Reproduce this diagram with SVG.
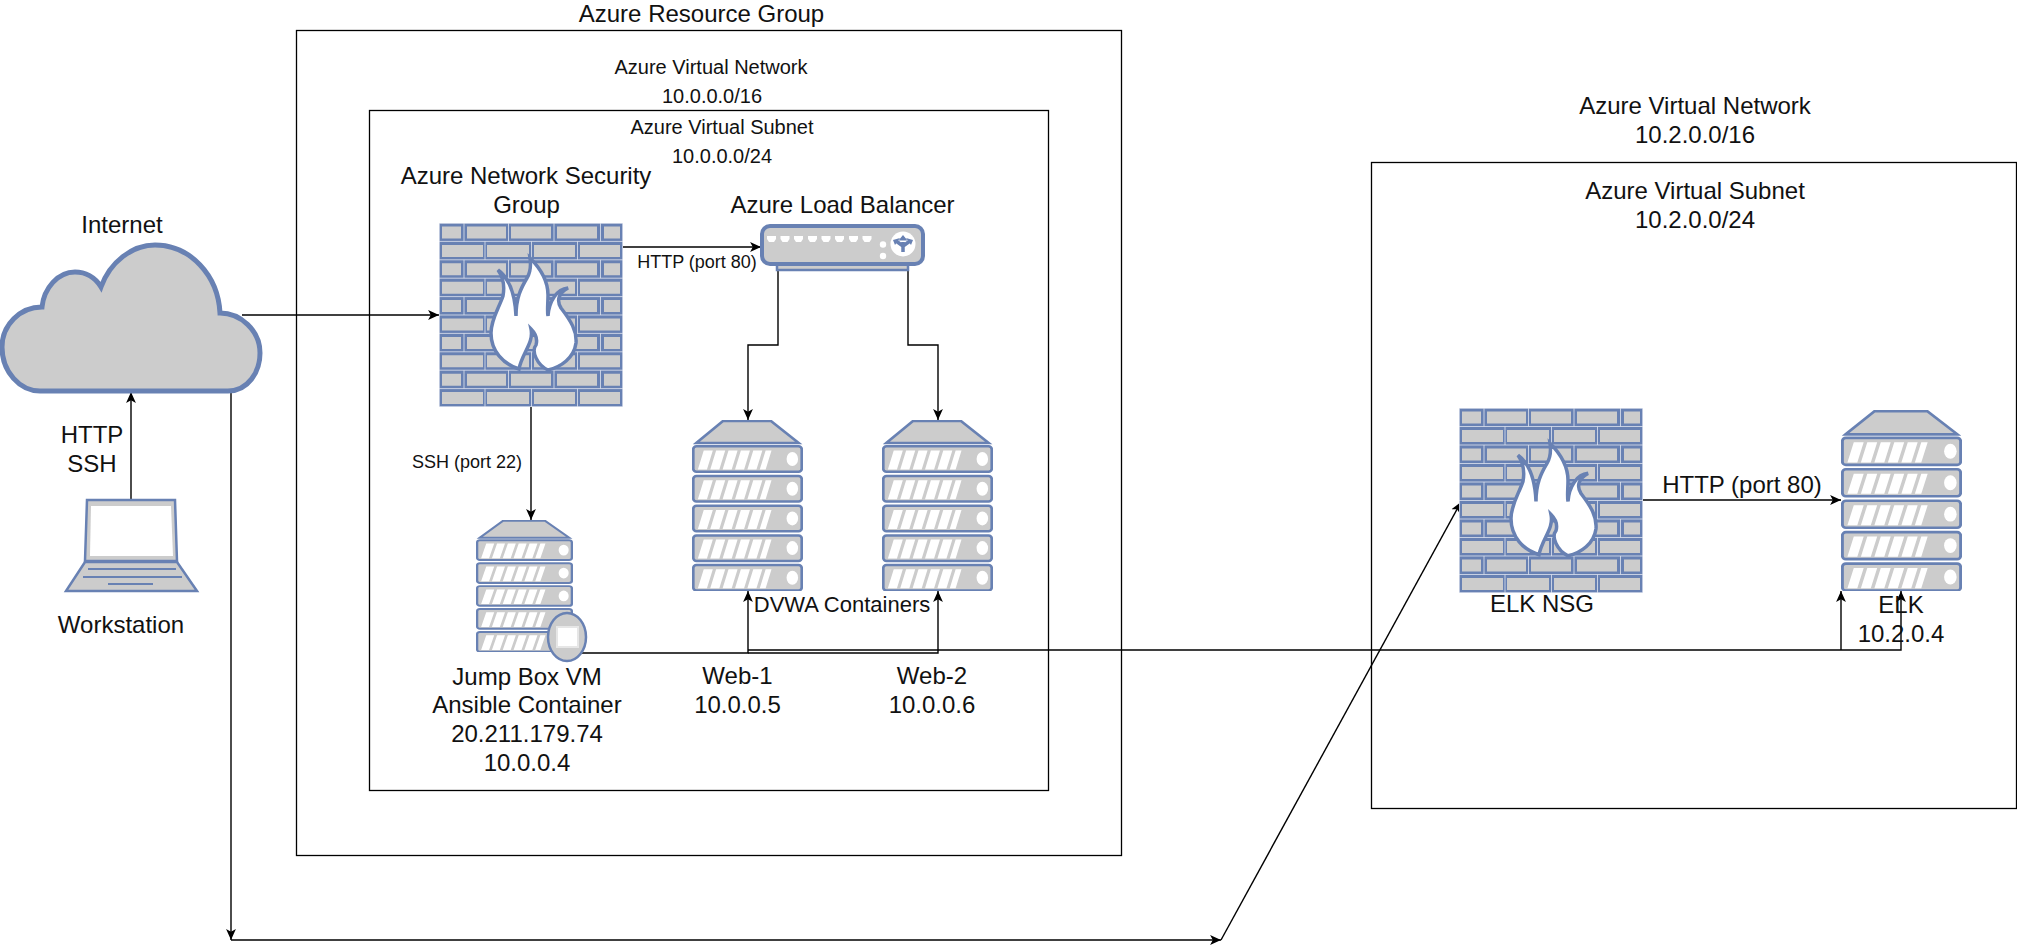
<svg xmlns="http://www.w3.org/2000/svg" width="2017" height="950" viewBox="0 0 2017 950">
<style>
text{font-family:"Liberation Sans",Arial,sans-serif;font-size:24px;fill:#111;text-anchor:middle}
.m{font-size:20px}
.s{font-size:18px}
.d{font-size:22px}
.box{fill:none;stroke:#000;stroke-width:1.3}
.c{fill:none;stroke:#000;stroke-width:1.4}
.a{marker-end:url(#arr)}
.b{fill:#ccc;stroke:#6881B3}
.br{fill:#ccc}
</style>
<defs>
<marker id="arr" markerUnits="userSpaceOnUse" markerWidth="12" markerHeight="12" refX="10" refY="5" orient="auto" viewBox="0 0 11 10">
<path d="M0,0.5 L10,5 L0,9.5 L2.5,5Z" fill="#000"/>
</marker>
<symbol id="server" viewBox="0 0 104 171" preserveAspectRatio="none">
<path class="b" stroke-width="2.5" d="M4,23 L29,1 H74 L100,23Z"/>
<g id="su">
<rect class="b" stroke-width="2.5" x="1.2" y="26.3" width="101.6" height="25.5" rx="3"/>
<path fill="#fff" d="M11,30.500 h8.500 l-5.500,19 h-8.500z M22.600,30.500 h8.500 l-5.500,19 h-8.500z M34.200,30.500 h8.500 l-5.500,19 h-8.500z M45.800,30.500 h8.500 l-5.500,19 h-8.500z M57.400,30.500 h8.500 l-5.500,19 h-8.500z M69,30.500 h5.500 l-5.500,19 h-5.500z"/>
<ellipse cx="94" cy="39" rx="5.400" ry="7" fill="#fff"/>
</g>
<use href="#su" y="29.7"/><use href="#su" y="59.4"/><use href="#su" y="89.1"/><use href="#su" y="118.8"/>
</symbol>
<symbol id="fw" viewBox="0 0 184 184" preserveAspectRatio="none">
<rect width="184" height="184" fill="#6881B3"/>
<path stroke="#dfe4ef" stroke-width="0.8" fill="none" d="M0,18.4H184M0,36.8H184M0,55.2H184M0,73.6H184M0,92H184M0,110.4H184M0,128.8H184M0,147.2H184M0,165.6H184M0,.4H184M0,183.6H184M.4,0V184M183.6,0V184"/>
<g id="r1"><path class="br" d="M3,3.5h19v12h-19z M28,3.5h39v12h-39z M72,3.5h40v12h-40z M118,3.5h40v12h-40z M165,3.5h16v12h-16z"/>
<path stroke="#dfe4ef" stroke-width="0.8" d="M25,0V18.4M69.5,0V18.4M115,0V18.4M161.5,0V18.4"/></g>
<g id="r2"><path class="br" d="M3,21.9h41v12h-41z M48,21.9h42v12h-42z M95,21.9h41v12h-41z M141,21.9h40v12h-40z"/>
<path stroke="#dfe4ef" stroke-width="0.8" d="M46,18.4V36.8M92.5,18.4V36.8M138.5,18.4V36.8"/></g>
<use href="#r1" y="36.8"/><use href="#r2" y="36.8"/><use href="#r1" y="73.6"/><use href="#r2" y="73.6"/><use href="#r1" y="110.4"/><use href="#r2" y="110.4"/><use href="#r1" y="147.2"/><use href="#r2" y="147.2"/>
<path fill="#fff" stroke="#6881B3" stroke-width="3.5" d="M91,35 C102,46 109,58 109,72 C109,80 108,88 109,93 C110,78 118,66 129,65 C120,70 117,77 122,85 C132,98 138,108 137,120 C135,135 122,144 109,147 C98,142 92,128 97,122 C99,115 96,110 92,106 C95,120 83,130 80,146 C64,141 52,128 52,110 C52,96 60,85 64,73 C66,62 64,54 59,47 C70,55 76,70 77,93 C77,75 82,65 88,55 C91,50 92,42 91,35Z"/>
</symbol>
</defs>
<rect width="2017" height="950" fill="#fff"/>

<g id="azure-resource-group"><rect class="box" x="296.5" y="30.5" width="825" height="825"/><text x="701.5" y="22">Azure Resource Group</text></g>
<g id="azure-vnet-1"><text class="m" x="711" y="74">Azure Virtual Network</text><text class="m" x="712" y="103">10.0.0.0/16</text></g>
<g id="azure-subnet-1"><rect class="box" x="369.5" y="110.5" width="679" height="680"/><text class="m" x="722" y="134">Azure Virtual Subnet</text><text class="m" x="722" y="163">10.0.0.0/24</text></g>
<g id="azure-vnet-2"><text x="1695" y="114">Azure Virtual Network</text><text x="1695" y="143">10.2.0.0/16</text></g>
<g id="azure-subnet-2"><rect class="box" x="1371.5" y="162.5" width="645" height="646"/><text x="1695" y="199">Azure Virtual Subnet</text><text x="1695" y="228">10.2.0.0/24</text></g>

<g id="connectors">
<path class="c a" d="M242,315H439"/>
<path class="c a" d="M131,500V392"/>
<path class="c a" d="M231,391V940"/>
<path class="c a" d="M231,940H1221"/>
<path class="c a" d="M1221,940L1461,502"/>
<path class="c a" d="M623,247H761"/>
<path class="c a" d="M778,270V345H748V420"/>
<path class="c a" d="M908,270V345H938V420"/>
<path class="c a" d="M531,407V520"/>
<path class="c a" d="M582,653H748V591"/>
<path class="c a" d="M748,653H938V591"/>
<path class="c a" d="M748,650H1901V591"/>
<path class="c a" d="M1841,650V591"/>
<path class="c a" d="M1643,500H1841"/>
</g>

<g id="internet"><path class="b" stroke-width="5" d="M40,391H228C248,391 260,372 260,353C260,330 240,313 220,313C218,275 190,245 155,245C132,245 110,262 101,287C95,277 85,272 75,272C58,272 44,288 42,307C20,307 2,325 2,347C2,372 20,391 40,391Z"/><text x="122" y="233">Internet</text></g>
<g id="workstation">
<path class="b" stroke-width="2.5" d="M87,500H175L177,561H85Z"/>
<path fill="#fff" d="M91,506H171L173,556H90Z"/>
<path class="b" stroke-width="2.5" d="M85,562H177L197,591H66Z"/>
<path stroke="#6881B3" stroke-width="2" fill="none" d="M88,569H176M83,577H182M108,584H153"/>
<text x="121" y="633">Workstation</text>
</g>
<g id="http-ssh-label"><text x="92" y="443">HTTP</text><text x="92" y="472">SSH</text></g>
<g id="nsg"><use href="#fw" x="439" y="223" width="184" height="184"/><text x="526" y="184">Azure Network Security</text><text x="526.5" y="213">Group</text></g>
<g id="load-balancer">
<rect class="b" stroke-width="2.5" x="777" y="262" width="131" height="8"/>
<rect class="b" stroke-width="4" x="762" y="226" width="161" height="38" rx="8"/>
<path fill="#fff" d="M767,236h9v3l-2,3h-5l-2,-3z M780.5,236h9v3l-2,3h-5l-2,-3z M794,236h9v3l-2,3h-5l-2,-3z M808,236h9v3l-2,3h-5l-2,-3z M821.5,236h9v3l-2,3h-5l-2,-3z M835,236h9v3l-2,3h-5l-2,-3z M849,236h9v3l-2,3h-5l-2,-3z M862.5,236h9v3l-2,3h-5l-2,-3z"/>
<circle cx="883" cy="244.500" r="3.200" fill="#fff"/><circle cx="883" cy="256" r="3.200" fill="#fff"/>
<circle cx="903" cy="244" r="12.500" fill="#fff"/>
<path stroke="#6881B3" stroke-width="3.500" fill="none" d="M903,252V242M896,241L903,246L910,241"/>
<path fill="#6881B3" d="M903,235l4.500,5.500h-9z M893,240l7,-2l-5,7z M913,240l-7,-2l5,7z"/>
<text x="842.5" y="213">Azure Load Balancer</text>
</g>
<g id="http-label"><text class="s" x="697" y="268">HTTP (port 80)</text></g>
<g id="ssh-label"><text class="s" x="467" y="468">SSH (port 22)</text></g>
<g id="web-1"><use href="#server" x="692" y="420" width="111" height="171"/><text x="737.5" y="684">Web-1</text><text x="737.5" y="713">10.0.0.5</text></g>
<g id="web-2"><use href="#server" x="882" y="420" width="111" height="171"/><text x="932" y="684">Web-2</text><text x="932" y="713">10.0.0.6</text></g>
<g id="dvwa-label"><text class="d" x="842" y="612">DVWA Containers</text></g>
<g id="jump-box"><use href="#server" x="476" y="520" width="97" height="132"/>
<ellipse class="b" stroke-width="2.500" cx="567" cy="637" rx="19" ry="24"/>
<rect x="557" y="627" width="21" height="20" fill="#fff" stroke="#e6e6e6" stroke-width="2"/>
<text x="527" y="685">Jump Box VM</text><text x="527" y="713">Ansible Container</text><text x="527" y="742">20.211.179.74</text><text x="527" y="771">10.0.0.4</text></g>
<g id="elk-nsg"><use href="#fw" x="1459" y="408" width="184" height="185"/><text x="1542" y="612">ELK NSG</text></g>
<g id="elk"><use href="#server" x="1841" y="410" width="121" height="181"/><text x="1901" y="613">ELK</text><text x="1901" y="642">10.2.0.4</text></g>
<g id="http-label-2"><text x="1742" y="493">HTTP (port 80)</text></g>
</svg>
